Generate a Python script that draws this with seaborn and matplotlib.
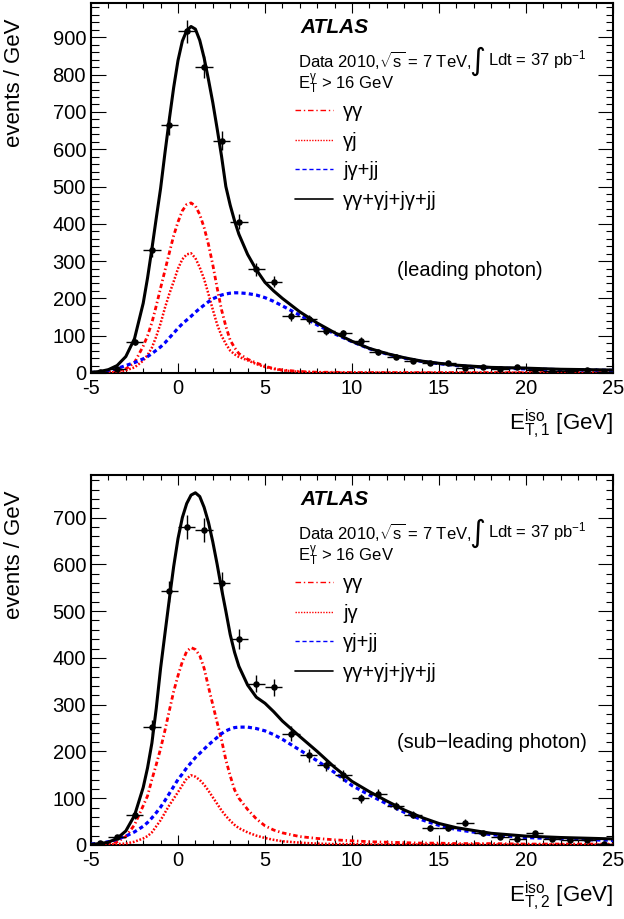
import numpy as np
import pandas as pd
import seaborn as sns
import matplotlib.pyplot as plt
from matplotlib.lines import Line2D
from matplotlib.ticker import MultipleLocator

# data points: 1 GeV bins
bin_centers = [-4.5, -3.5, -2.5, -1.5, -0.5, 0.5, 1.5, 2.5, 3.5, 4.5,
               5.5, 6.5, 7.5, 8.5, 9.5, 10.5, 11.5, 12.5, 13.5, 14.5,
               15.5, 16.5, 17.5, 18.5, 19.5, 20.5, 21.5, 22.5, 23.5, 24.5]
top_counts = [4, 10, 83, 330, 664, 916, 820, 623, 405, 278,
              245, 153, 144, 113, 106, 86, 55, 44, 32, 26,
              28, 14, 17, 10, 15, 8, 6, 5, 8, 4]
bottom_counts = [4, 18, 64, 252, 542, 680, 674, 561, 441, 345,
                 337, 238, 192, 171, 149, 100, 109, 83, 65, 36,
                 36, 48, 25, 18, 12, 25, 12, 10, 11, 3]

# fitted template curves
curve_x = [-5, -4.5, -4, -3.5, -3, -2.5, -2, -1.75, -1.5, -1.25,
           -1, -0.75, -0.5, -0.25, 0, 0.25, 0.5, 0.75, 1, 1.25,
           1.5, 1.75, 2, 2.25, 2.5, 2.75, 3, 3.25, 3.5, 4,
           4.5, 5, 5.5, 6, 7, 8, 9, 10, 11, 12,
           13, 14, 15, 16, 18, 20, 22, 25]

top_gg = [0, 1, 2, 5, 11, 28, 72, 100, 135, 180,
          228, 275, 322, 368, 405, 435, 452, 456, 448, 425,
          390, 345, 290, 228, 170, 125, 88, 68, 52, 37,
          27, 18, 12, 8, 4, 2, 2, 1, 1, 1,
          1, 1, 1, 1, 1, 1, 1, 1]
top_gj = [0, 0, 1, 3, 7, 15, 33, 48, 68, 98,
          133, 175, 212, 245, 280, 305, 318, 321, 308, 283,
          252, 212, 170, 130, 100, 78, 60, 50, 43, 34,
          24, 16, 11, 7, 3, 2, 1, 1, 1, 1,
          1, 1, 1, 1, 1, 1, 1, 1]
top_bkg = [1, 3, 7, 12, 20, 28, 38, 44, 52, 61,
           70, 81, 94, 107, 120, 132, 142, 152, 163, 173,
           182, 191, 199, 204, 209, 212, 214, 215, 215, 213,
           209, 202, 192, 180, 155, 129, 105, 84, 65, 51,
           40, 31, 25, 20, 14, 11, 9, 7]
top_total = [2, 4, 9, 20, 44, 92, 187, 255, 333, 415,
             495, 590, 680, 765, 838, 890, 918, 929, 922, 892,
             845, 787, 725, 655, 582, 500, 450, 408, 372, 318,
             277, 243, 220, 200, 164, 134, 108, 85, 66, 52,
             41, 32, 26, 21, 15, 13, 10, 8]

bottom_gg = [0, 1, 3, 7, 18, 43, 84, 105, 140, 172,
             206, 245, 287, 328, 362, 392, 414, 422, 418, 405,
             378, 338, 300, 262, 225, 182, 148, 118, 100, 76,
             56, 41, 32, 26, 18, 14, 11, 9, 7, 6,
             5, 4, 4, 3, 3, 2, 2, 2]
bottom_jg = [0, 0, 1, 2, 3, 7, 14, 19, 27, 40,
             53, 69, 85, 99, 113, 128, 142, 149, 146, 139,
             129, 116, 102, 88, 74, 62, 52, 43, 36, 27,
             20, 15, 11, 8, 5, 3, 2, 2, 1, 1,
             1, 1, 1, 1, 1, 1, 1, 1]
bottom_bkg = [2, 4, 7, 12, 19, 28, 40, 48, 58, 69,
              81, 95, 110, 125, 140, 152, 165, 176, 187, 196,
              205, 214, 222, 230, 238, 244, 248, 251, 252, 252,
              249, 244, 236, 226, 203, 180, 155, 127, 107, 88,
              70, 54, 42, 33, 22, 16, 13, 10]
bottom_total = [1, 3, 6, 14, 30, 63, 123, 165, 218, 292,
                378, 452, 525, 595, 655, 700, 730, 748, 753, 745,
                722, 690, 648, 600, 548, 500, 450, 412, 382, 342,
                316, 303, 285, 265, 232, 200, 166, 136, 114, 94,
                75, 59, 46, 37, 25, 19, 16, 13]

top_labels = ['γγ', 'γj', 'jγ+jj', 'γγ+γj+jγ+jj']
bottom_labels = ['γγ', 'jγ', 'γj+jj', 'γγ+γj+jγ+jj']

sns.set_theme(style='ticks')
sns.set_style('ticks', {'axes.edgecolor': 'black', 'xtick.color': 'black',
                        'ytick.color': 'black', 'text.color': 'black',
                        'axes.labelcolor': 'black'})
plt.rcParams['font.family'] = ['Liberation Sans', 'DejaVu Sans']
plt.rcParams['mathtext.fontset'] = 'custom'
plt.rcParams['mathtext.rm'] = 'Liberation Sans'
plt.rcParams['mathtext.it'] = 'Liberation Sans'
plt.rcParams['axes.unicode_minus'] = False

styles = [dict(color='red', linestyle=(0, (1.6, 1.0, 0.5, 1.0)), lw=2.0),
          dict(color='red', linestyle=(0, (0.7, 0.7)), lw=1.8),
          dict(color='blue', linestyle=(0, (1.3, 1.0)), lw=2.3),
          dict(color='black', linestyle='-', lw=2.2)]
leg_styles = [dict(color='red', linestyle=(0, (4, 2, 1, 2)), lw=1.0),
              dict(color='red', linestyle=(0, (1, 1)), lw=1.0),
              dict(color='blue', linestyle=(0, (3, 2)), lw=1.0),
              dict(color='black', linestyle='-', lw=1.2)]

fig = plt.figure(figsize=(6.24, 9.19), dpi=100)
ax_top = fig.add_axes([91 / 624, 1 - 373 / 919, 522 / 624, 370 / 919])
ax_bot = fig.add_axes([91 / 624, 1 - 845 / 919, 522 / 624, 370 / 919])

panels = [
    (ax_top, top_counts, [top_gg, top_gj, top_bkg, top_total], top_labels,
     992, '(leading photon)', r'$\mathrm{E_{T,1}^{iso}}$ [GeV]'),
    (ax_bot, bottom_counts, [bottom_gg, bottom_jg, bottom_bkg, bottom_total], bottom_labels,
     791, '(sub−leading photon)', r'$\mathrm{E_{T,2}^{iso}}$ [GeV]'),
]

for ax, counts, curves, labels, ymax, tag, xlab in panels:
    for i, (yc, st) in enumerate(zip(curves, styles)):
        df = pd.DataFrame({'x': curve_x, 'y': yc})
        sns.lineplot(data=df, x='x', y='y', ax=ax, color=st['color'],
                     linestyle=st['linestyle'], lw=st['lw'], zorder=2 + i)

    counts = np.array(counts, dtype=float)
    ax.errorbar(bin_centers, counts, xerr=0.5, yerr=np.sqrt(counts), fmt='none',
                ecolor='black', elinewidth=1.0, capsize=0, zorder=10)
    sns.scatterplot(x=bin_centers, y=counts, ax=ax, color='black', s=22,
                    edgecolor='black', linewidth=0, zorder=11)

    ax.set_xlim(-5, 25)
    ax.set_ylim(0, ymax)
    ax.set_xlabel('')
    ax.set_ylabel('')
    ax.xaxis.set_major_locator(MultipleLocator(5))
    ax.xaxis.set_minor_locator(MultipleLocator(1))
    ax.yaxis.set_major_locator(MultipleLocator(100))
    ax.yaxis.set_minor_locator(MultipleLocator(20))
    ax.tick_params(axis='x', which='major', direction='in', top=True, length=7.5,
                   width=0.8, labelsize=14.5, pad=4)
    ax.tick_params(axis='x', which='minor', direction='in', top=True, length=3.6, width=0.8)
    ax.tick_params(axis='y', which='major', direction='in', right=True, length=10.8,
                   width=0.8, labelsize=14.5, pad=3.6)
    ax.tick_params(axis='y', which='minor', direction='in', right=True, length=5.4, width=0.8)
    for sp in ax.spines.values():
        sp.set_linewidth(1.5)
        sp.set_visible(True)

    ax.text(0.4004, 0.935, 'ATLAS', transform=ax.transAxes, fontsize=15,
            fontweight='bold', fontstyle='italic', va='center', ha='left')
    ax.text(0.3966, 0.846, r'Data 2010,$\sqrt{\mathrm{s}}$ = 7 TeV,', transform=ax.transAxes,
            fontsize=12, va='center', ha='left')
    ax.text(0.7405, 0.843, '∫', transform=ax.transAxes, fontsize=22,
            family='DejaVu Sans', va='center', ha='center')
    ax.text(0.7605, 0.846, r'Ldt = 37 pb$^{\mathrm{-1}}$', transform=ax.transAxes,
            fontsize=12, va='center', ha='left')
    ax.text(0.3966, 0.781, r'$\mathrm{E_T^{\gamma}}$ > 16 GeV', transform=ax.transAxes,
            fontsize=12, va='center', ha='left')

    handles = [Line2D([], [], **st) for st in leg_styles]
    ax.legend(handles, labels, loc='upper left', bbox_to_anchor=(0.3908, 0.7324),
              frameon=False, fontsize=14.5, handlelength=1.9, handletextpad=0.5,
              labelspacing=0.53, borderaxespad=0, borderpad=0)

    ax.text(0.586, 0.276, tag, transform=ax.transAxes, fontsize=14.5,
            va='center', ha='left')
    ax.text(-0.1456, 0.959, 'events / GeV', transform=ax.transAxes, fontsize=16,
            rotation=90, va='top', ha='center')
    ax.text(1.0, -0.14, xlab, transform=ax.transAxes, fontsize=16,
            va='center', ha='right')

fig.savefig('out.png', dpi=100)
